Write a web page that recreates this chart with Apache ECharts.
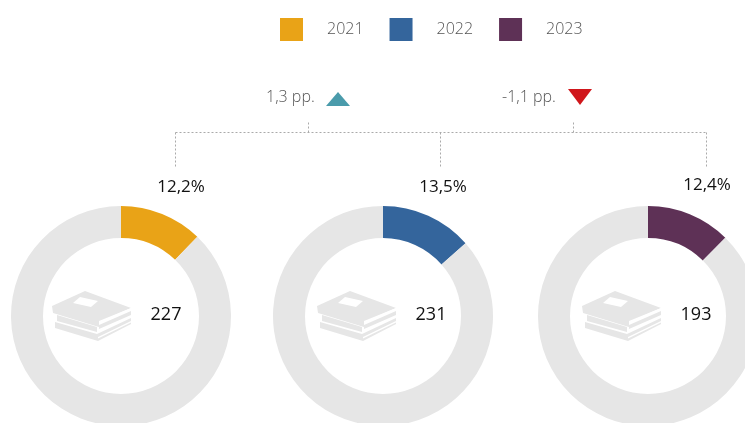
<!DOCTYPE html>
<html><head><meta charset="utf-8">
<style>html,body{margin:0;padding:0;background:#fff}#c{width:745px;height:423px}</style>
<script src="https://cdn.jsdelivr.net/npm/echarts@6/dist/echarts.min.js"></script></head>
<body><div id="c"></div>
<script>
const years = ['2021','2022','2023'];
const shares = [12.2,13.5,12.4];
const shareLabels = ['12,2%','13,5%','12,4%'];
const counts = ['227','231','193'];
const colors = ['#E9A317','#34659C','#5E3156'];
const changes = ['1,3 pp.','-1,1 pp.'];
const centersX = [121,383,648];
const iconX = [53,318,583];
const countX = [166,431,696];
const labelX = [181,443,707], labelY = [187,187,185];
const FONT = '"Open Sans", sans-serif';
const GREY = '#E6E6E6';
const chart = echarts.init(document.getElementById('c'));
const series = years.map((y,i)=>({
  type:'pie', silent:true, center:[centersX[i],316], radius:[78,110], startAngle:90, clockwise:true,
  label:{show:false}, labelLine:{show:false}, animation:false,
  data:[{name:y,value:shares[i],itemStyle:{color:colors[i]}},{name:'rest'+y,value:100-shares[i],itemStyle:{color:GREY}}]
}));
const txt=(x,y,text,size,fill,weight,align)=>({type:'text',x,y,silent:true,style:{text,fontSize:size,fontFamily:FONT,fontWeight:weight||400,fill,align:align||'left',verticalAlign:'middle'}});
const line=(x1,y1,x2,y2)=>({type:'line',silent:true,shape:{x1:x1+.5,y1:y1+.5,x2:x2+.5,y2:y2+.5},style:{stroke:'#AAAAAA',lineWidth:1,lineDash:[2,2]}});
const book=(ox)=>{
  const oy=291, P=(pts,fill)=>({type:'polygon',silent:true,x:ox,y:oy,shape:{points:pts},style:{fill}});
  return [
    P([[32,0],[78,17],[46,31],[46,36],[0,22],[-1,15]],GREY),
    P([[46,30],[78,17],[78,18.5],[46,32]],'#fff'),
    P([[46,34],[78,20],[78,24],[46,38]],GREY),
    P([[4,24],[44,36],[44,41],[4,30]],GREY),
    P([[2,31],[44,43],[78,27],[78,33],[45,50],[2,37]],GREY),
    P([[45,46],[78,30],[78,31.5],[45,47.5]],'#fff'),
    P([[20,12],[27,6],[45,10],[38,16]],'#fff')
  ];
};
const graphic=[
  line(175,132,706,132),line(175,132,175,167),line(440,132,440,167),line(706,132,706,167),
  line(308,122,308,132),line(573,122,573,132),
  txt(266,97,changes[0],16,'#555',300),
  txt(502,97,changes[1],16,'#555',300),
  {type:'polygon',silent:true,shape:{points:[[338,92],[350,106],[326,106]]},style:{fill:'#4A9BAB'}},
  {type:'polygon',silent:true,shape:{points:[[568,89],[592,89],[580,105]]},style:{fill:'#D0161B'}}
];
years.forEach((y,i)=>{
  graphic.push(txt(labelX[i],labelY[i],shareLabels[i],17,'#111',400,'center'));
  graphic.push(txt(countX[i],315,counts[i],18,'#111',400,'center'));
  graphic.push(...book(iconX[i]));
});
chart.setOption({
  animation:false,
  backgroundColor:'#fff',
  legend:{show:true,left:280,top:18,padding:0,selectedMode:false,data:years,icon:'rect',itemWidth:23,itemHeight:23,itemGap:26,
    textStyle:{fontFamily:FONT,fontSize:16,fontWeight:300,color:'#555',padding:[0,0,0,19]}},
  series, graphic
});
</script></body></html>
